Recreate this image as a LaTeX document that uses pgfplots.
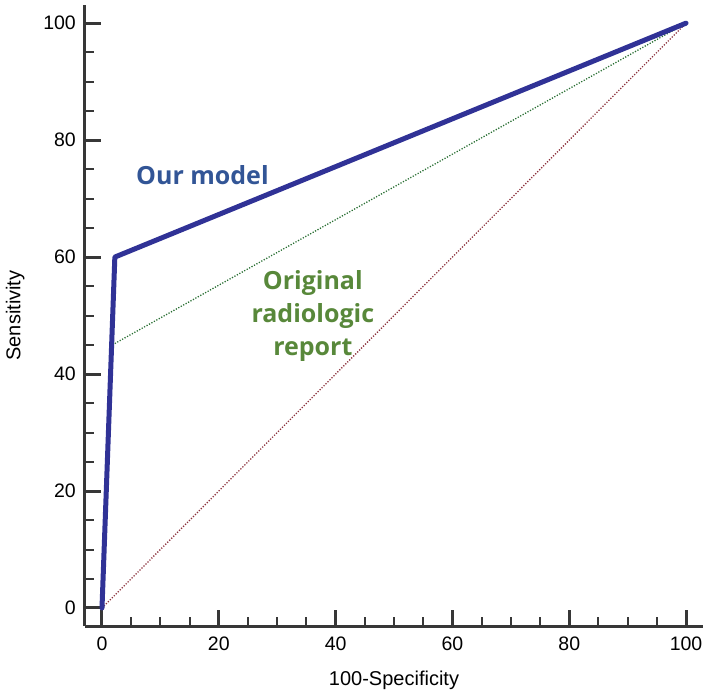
\documentclass[border=0pt]{standalone}
\usepackage{fontspec}
\setmainfont{Liberation Sans}
\newfontfamily\annfont{Open Sans}
\usepackage{pgfplots}
\pgfplotsset{compat=1.18}
\definecolor{axgray}{RGB}{55,55,55}
\definecolor{curveblue}{RGB}{48,50,150}
\definecolor{txtblue}{RGB}{50,85,150}
\definecolor{txtgreen}{RGB}{88,136,58}
\definecolor{dotgreen}{RGB}{40,110,50}
\definecolor{dotred}{RGB}{140,50,60}
\begin{document}
\begin{tikzpicture}
\begin{axis}[
  scale only axis,
  width=618pt, height=621pt,
  xmin=-2.91, xmax=102.9,
  ymin=-3.08, ymax=103.1,
  axis x line=bottom, axis y line=left,
  axis line style={-, line width=3pt, color=axgray},
  xtick={0,20,...,100}, ytick={0,20,...,100},
  minor tick num=3,
  tick align=inside,
  major tick length=16pt, minor tick length=9pt,
  major tick style={line width=3pt, color=axgray},
  minor tick style={line width=2pt, color=axgray},
  /pgf/number format/assume math mode=true,
  tick label style={font=\fontsize{19.5}{23}\selectfont, inner sep=0pt},
  yticklabel style={anchor=east, xshift=-9pt},
  xticklabel style={anchor=north, yshift=-11pt},
  xlabel={100-Specificity}, ylabel={Sensitivity},
  label style={font=\fontsize{20}{24}\selectfont},
  xlabel style={at={(axis description cs:0.5,-0.087)}, anchor=center},
  ylabel style={at={(axis description cs:-0.113,0.5)}, anchor=center, rotate=0},
  clip=false,
]
\addplot[dotred, line width=1.3pt, dash pattern=on 1.2pt off 1.6pt] coordinates {(0,0) (100,100)};
\addplot[dotgreen, line width=1.3pt, dash pattern=on 1.2pt off 1.6pt] coordinates {(0,0) (1.8,45) (100,100)};
\addplot[curveblue, line width=5pt, line join=round, line cap=round] coordinates {(0,0) (2.2,60) (100,100)};
\node[text=txtblue, font=\annfont\bfseries\fontsize{25}{30}\selectfont] at (axis cs:17.2,74) {Our model};
\node[text=txtgreen, align=center, font=\annfont\bfseries\fontsize{25}{33}\selectfont] at (axis cs:36.1,50) {Original\\radiologic\\report};
\end{axis}
\path (current axis.south west) ++(-85pt,-66pt) rectangle ++(728pt,692pt);
\end{tikzpicture}
\end{document}
